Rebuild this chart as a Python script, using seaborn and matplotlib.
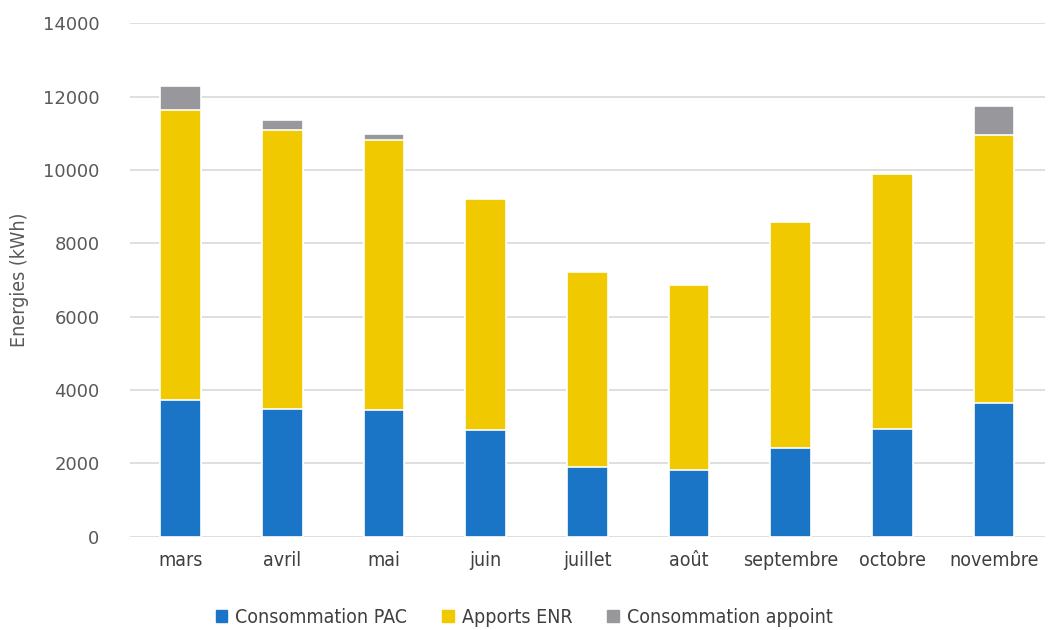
import numpy as np
import pandas as pd
import seaborn as sns
import matplotlib.pyplot as plt
from matplotlib.patches import Patch

mois = ['mars', 'avril', 'mai', 'juin', 'juillet', 'août', 'septembre', 'octobre', 'novembre']
conso_pac = [3730, 3490, 3460, 2915, 1905, 1825, 2425, 2940, 3650]
apports_enr = [7900, 7600, 7350, 6290, 5310, 5040, 6155, 6950, 7300]
conso_appoint = [660, 270, 170, 0, 0, 0, 0, 0, 790]

sns.set_theme(style='white')
plt.rcParams['font.family'] = ['DejaVu Sans']
plt.rcParams['font.stretch'] = 'condensed'

df = pd.DataFrame({'mois': mois, 'pac': conso_pac, 'enr': apports_enr, 'app': conso_appoint})
df['pac_enr'] = df['pac'] + df['enr']
df['total'] = df['pac_enr'] + df['app']

c_blue = '#1a75c7'
c_yellow = '#f0c900'
c_grey = '#98979b'

fig = plt.figure(figsize=(10.48, 6.30), dpi=100)
ax = fig.add_axes([0.124, 0.148, 0.873, 0.815])

# stacked bars drawn as overlapping cumulative totals
for col, color in [('total', c_grey), ('pac_enr', c_yellow), ('pac', c_blue)]:
    sns.barplot(data=df, x='mois', y=col, color=color, width=0.4, saturation=1,
                edgecolor='white', linewidth=1.2, ax=ax, zorder=3)

ax.set_ylim(0, 14000)
ax.set_yticks(range(0, 14001, 2000))
ax.yaxis.grid(True, color='#d9d9d9', linewidth=1.2, zorder=0)
ax.set_axisbelow(True)
for s in ax.spines.values():
    s.set_visible(False)
ax.set_xlabel('')
ax.set_ylabel('Energies (kWh)', fontsize=14, color='#595959', labelpad=10)
ax.tick_params(axis='x', labelsize=14, colors='#404040', length=0, pad=10)
ax.tick_params(axis='y', labelsize=13, colors='#595959', length=0, pad=22)
for lab in ax.get_yticklabels():
    lab.set_fontstretch('normal')

handles = [Patch(color=c_blue), Patch(color=c_yellow), Patch(color=c_grey)]
fig.legend(handles, ['Consommation PAC', 'Apports ENR', 'Consommation appoint'],
           loc='center', bbox_to_anchor=(0.5, 0.02), ncol=3, frameon=False,
           fontsize=14, handlelength=0.6, handleheight=0.6, handletextpad=0.4,
           columnspacing=1.8, labelcolor='#404040')

fig.savefig('out.png', dpi=100)
